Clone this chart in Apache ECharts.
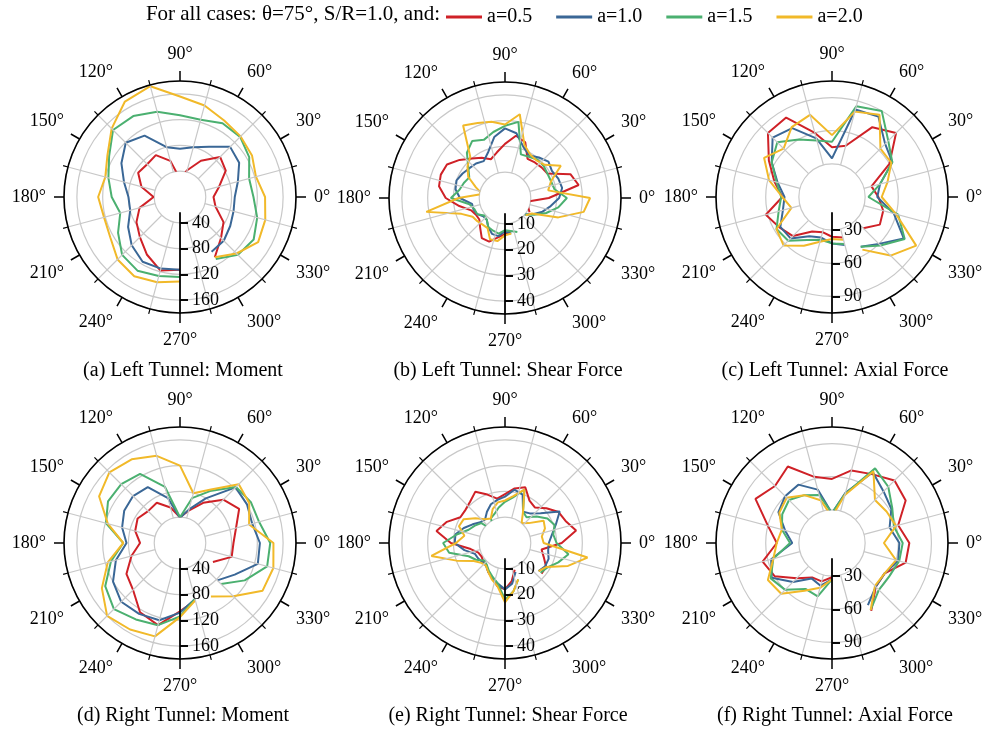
<!DOCTYPE html>
<html><head><meta charset="utf-8">
<script src="https://cdn.jsdelivr.net/npm/echarts@6/dist/echarts.min.js"></script>
<style>html,body{margin:0;padding:0;background:#fff}#c{width:985px;height:731px}</style>
</head><body><div id="c"></div>
<script>
// ---------- data ----------
const seriesNames = ['a=0.5', 'a=1.0', 'a=1.5', 'a=2.0'];
const headText = 'For all cases: θ=75°, S/R=1.0, and:';
const captions = ['(a) Left Tunnel: Moment', '(b) Left Tunnel: Shear Force', '(c) Left Tunnel: Axial Force',
                  '(d) Right Tunnel: Moment', '(e) Right Tunnel: Shear Force', '(f) Right Tunnel: Axial Force'];

// angles (deg) for moment / axial panels, 15 deg step, path starts after the gap near 290 deg
const angM = [300,315,330,345,0,15,30,45,60,75,90,105,120,135,150,165,180,195,210,225,240,255,270,285];
// angles (deg) for shear panels, 10 deg step
const angS = [300,310,320,330,340,350,0,10,20,30,40,50,60,70,80,90,100,110,120,130,140,150,160,170,180,190,200,210,220,230,240,250,260,270,280,290];

// (a) Left tunnel moment
const lmRed    = [108,90,78,57,52,63,82,88,65,43,28,58,75,72,75,62,41,65,78,88,103,118,113,null];
const lmBlue   = [98,96,90,86,85,93,106,110,90,80,75,80,110,119,105,90,80,80,93,106,116,115,113,null];
const lmGreen  = [111,127,132,124,114,111,124,132,132,124,127,137,145,147,127,115,106,96,111,127,132,127,124,null];
const lmYellow = [108,124,140,137,132,122,129,133,137,147,156,178,171,150,130,120,127,122,125,137,142,137,131,null];
// (b) Left tunnel shear force
const lsRed    = [null,null,null,11,9.5,8.5,17,29,27,19,18.5,18,17.5,23,24.5,21,18,16,18,20,23,26,26.5,26,23,18,14,13,13,15,18,18,15.5,14,13,null];
const lsBlue   = [null,null,10,12.5,15.5,18,21,22.5,22,21,22,20.5,19,21,25.5,27,24,19,16.5,17.5,18,19,20,19.5,17.5,13,13,12.5,11,11,13,14.8,15,13,14,null];
const lsGreen  = [null,null,10,13,17,21,24,19.5,19,19,19.5,19.5,18.5,18,30,28,26,24,25.5,23,18.6,16,17,18,21,14,12.6,12.5,10.5,11,13,13.5,14,12.5,13,14];
const lsYellow = [null,null,10.5,12,22,31,33,17,19,25,20,19,19.5,22,33,28.5,30,31,32.5,21,19,16.5,12,9,18,31,18,14.5,14,13.5,13.5,17,17,14.5,14,null];
// (c) Left tunnel axial force
const laRed    = [null,40,50,48,42,37,60,82,73,48,45,60,83,82,66,54,45,62,55,50,36,33,36,38];
const laBlue   = [52,60,75,58,41,45,63,68,84,82,35,55,72,76,63,51,43,46,54,53,41,38,42,45];
const laGreen  = [52,62,76,62,33,45,63,72,90,85,50,53,60,70,63,52,46,50,58,56,45,40,42,44];
const laYellow = [55,75,88,60,45,52,62,62,86,80,56,77,73,62,71,59,45,38,58,62,51,42,38,40];
// (d) Right tunnel moment
const rmRed    = [null,null,59,83,83,90,106,95,72,52,40,57,72,70,76,72,62,78,96,103,124,132,106,92];
const rmBlue   = [null,82,98,125,124,116,120,122,80,54,39,72,100,103,100,93,83,103,120,129,127,124,108,90];
const rmGreen  = [null,90,116,140,140,127,127,123,93,72,40,90,124,129,129,119,88,111,134,145,137,132,114,90];
const rmYellow = [96,117,148,150,145,111,124,129,96,80,120,140,150,155,145,116,88,116,140,160,155,150,115,92];
// (e) Right tunnel shear force
const rsRed    = [null,null,18.5,18.4,16,14.4,22,28,25,24,21,18,19,23,21.5,19,17.5,20,23,21,20,20,24,27,21,13.5,11,10.5,11,11.2,13,14.5,17,18,15,11];
const rsBlue   = [null,null,17,18,18,17,17,18.5,21,24.5,18,15,14,20,21,18,17,16,14,12,12.5,14.5,17,19.5,19.5,16,12.4,12,11.5,11.5,13,14.3,16,18,16,12];
const rsGreen  = [null,null,18,19,22,25,20,19,20.5,19,16,13,14,22,18,16,14,12,11,6,12,13.5,15,19,24,22,15,13,10.5,11,12.5,14,16,22,19,15];
const rsYellow = [null,null,17,18.6,26,32.5,15,14.5,16.5,17.3,12,10,14,22,18.5,16.5,16,14,11,12,15,18.5,19,16,19,29,20,14,12,11.5,13,15,17,23,19,15];
// (f) Right tunnel axial force
const raRed    = [71,56,55,69,70,62,77,80,72,68,58,62,80,73,80,60,50,65,60,45,36,36,31,null];
const raBlue   = [65,56,55,62,61,54,62,66,74,47,27,50,61,60,56,44,36,57,63,50,37,40,33,null];
const raGreen  = [70,60,60,63,64,58,63,72,78,46,27,45,50,55,52,47,38,55,64,60,48,50,33,null];
const raYellow = [70,55,55,60,47,60,57,55,75,45,24,40,50,58,55,47,50,55,67,65,50,42,33,null];

// radial scales: first circle, outer value, step, last labelled tick
const momentScale = {min: 40, max: 180, step: 40, last: 160};
const shearScale  = {min: 10, max: 45,  step: 10, last: 40};
const axialScale  = {min: 30, max: 105, step: 30, last: 90};

// ---------- styling / layout ----------
const colors = ['#cf2127', '#3a6796', '#4bb070', '#f1b929'];
const FONT = 'Liberation Serif';
const R = 116;
const centers = [[180,197],[505,198],[832,197],[180,543],[505,543],[832,543]];
const captionY = [371, 371, 371, 716, 716, 716];

const panels = [
  {ang: angM, vals: [lmRed, lmBlue, lmGreen, lmYellow], sc: momentScale},
  {ang: angS, vals: [lsRed, lsBlue, lsGreen, lsYellow], sc: shearScale},
  {ang: angM, vals: [laRed, laBlue, laGreen, laYellow], sc: axialScale},
  {ang: angM, vals: [rmRed, rmBlue, rmGreen, rmYellow], sc: momentScale},
  {ang: angS, vals: [rsRed, rsBlue, rsGreen, rsYellow], sc: shearScale},
  {ang: angM, vals: [raRed, raBlue, raGreen, raYellow], sc: axialScale}
];

const polar = [], angleAxis = [], radiusAxis = [], series = [], graphic = [];
const grey = '#c8c8c8';
const hiddenRadius = idx => ({polarIndex: idx, type: 'value', min: 0, max: 1,
  axisLine: {show: false}, axisTick: {show: false}, axisLabel: {show: false}, splitLine: {show: false}});

panels.forEach((p, k) => {
  const c = centers[k];
  const sc = p.sc;
  const r0 = sc.min / sc.max * R;
  const rLast = sc.last / sc.max * R;
  const base = polar.length;

  // A: data polar with angle ticks/labels, spokes and grey circles
  polar.push({center: c, radius: [r0, R]});
  angleAxis.push({
    polarIndex: base, type: 'value', min: 0, max: 360, interval: 30,
    startAngle: 0, clockwise: false, z: 3,
    axisLine: {show: false},
    axisTick: {show: true, length: 10, lineStyle: {color: '#000', width: 1.5}},
    minorTick: {show: true, splitNumber: 2, length: 5, lineStyle: {color: '#000', width: 1.2}},
    splitLine: {show: false},
    minorSplitLine: {show: true, lineStyle: {color: grey, width: 1.2}},
    axisLabel: {margin: 18, color: '#000', fontFamily: FONT, fontSize: 18,
      formatter: v => (v >= 360 ? '' : v + '°')}
  });
  radiusAxis.push({
    polarIndex: base, type: 'value', min: sc.min, max: sc.max, interval: sc.step, z: 1,
    axisLine: {show: false}, axisTick: {show: false}, axisLabel: {show: false},
    splitLine: {show: true, lineStyle: {color: grey, width: 1.2}}
  });

  // B: radial ticks (one side) + labels, pointing down
  polar.push({center: c, radius: [r0, rLast]});
  angleAxis.push({polarIndex: base + 1, show: false, type: 'value', min: 0, max: 360, startAngle: 270});
  radiusAxis.push({
    polarIndex: base + 1, type: 'value', min: sc.min, max: sc.last, interval: sc.step, z: 10,
    axisLine: {show: false},
    axisTick: {show: true, inside: false, length: 8, lineStyle: {color: '#000', width: 1.6}},
    axisLabel: {show: true, margin: 12, color: '#000', fontFamily: FONT, fontSize: 18},
    splitLine: {show: false}
  });
  // C: radial ticks other side
  polar.push({center: c, radius: [r0, rLast]});
  angleAxis.push({polarIndex: base + 2, show: false, type: 'value', min: 0, max: 360, startAngle: 270});
  radiusAxis.push({
    polarIndex: base + 2, type: 'value', min: sc.min, max: sc.last, interval: sc.step, z: 10,
    axisLine: {show: false},
    axisTick: {show: true, inside: true, length: 8, lineStyle: {color: '#000', width: 1.6}},
    axisLabel: {show: false}, splitLine: {show: false}
  });
  // D: radial axis line
  polar.push({center: c, radius: [16, R]});
  angleAxis.push({polarIndex: base + 3, show: false, type: 'value', min: 0, max: 360, startAngle: 270});
  radiusAxis.push({
    polarIndex: base + 3, type: 'value', min: 0, max: 1, z: 10,
    axisLine: {show: true, lineStyle: {color: '#000', width: 1.8}},
    axisTick: {show: false}, axisLabel: {show: false}, splitLine: {show: false}
  });
  // E: outer black circle only
  polar.push({center: c, radius: [0, R]});
  angleAxis.push({
    polarIndex: base + 4, type: 'value', min: 0, max: 360, startAngle: 0, clockwise: false, z: 4,
    axisLine: {show: true, lineStyle: {color: '#000', width: 1.6}},
    axisTick: {show: false}, axisLabel: {show: false}, splitLine: {show: false}
  });
  radiusAxis.push(hiddenRadius(base + 4));

  p.vals.forEach((vals, s) => {
    series.push({
      type: 'line', name: seriesNames[s], coordinateSystem: 'polar', polarIndex: base,
      data: p.ang.map((a, i) => (vals[i] == null ? ['-', a] : [vals[i], a])),
      showSymbol: false, symbol: 'none', clip: false, z: 2,
      lineStyle: {color: colors[s], width: 2}, itemStyle: {color: colors[s]},
      connectNulls: false, animation: false
    });
  });

  graphic.push({type: 'text', x: c[0] + 3, y: captionY[k],
    style: {text: captions[k], fill: '#000', font: '20px "' + FONT + '"', textAlign: 'center', textVerticalAlign: 'middle'}});
});

graphic.push({type: 'text', x: 440, y: 14,
  style: {text: headText, fill: '#000', font: '21px "' + FONT + '"', textAlign: 'right', textVerticalAlign: 'middle'}});

const chart = echarts.init(document.getElementById('c'));
chart.setOption({
  backgroundColor: '#fff',
  animation: false,
  color: colors,
  legend: {
    data: seriesNames.map(n => ({name: n, icon: 'rect'})),
    top: 2, left: 441, itemWidth: 36, itemHeight: 3, itemGap: 24,
    textStyle: {fontFamily: FONT, fontSize: 20, color: '#000'}
  },
  polar, angleAxis, radiusAxis, series, graphic
});
</script></body></html>
